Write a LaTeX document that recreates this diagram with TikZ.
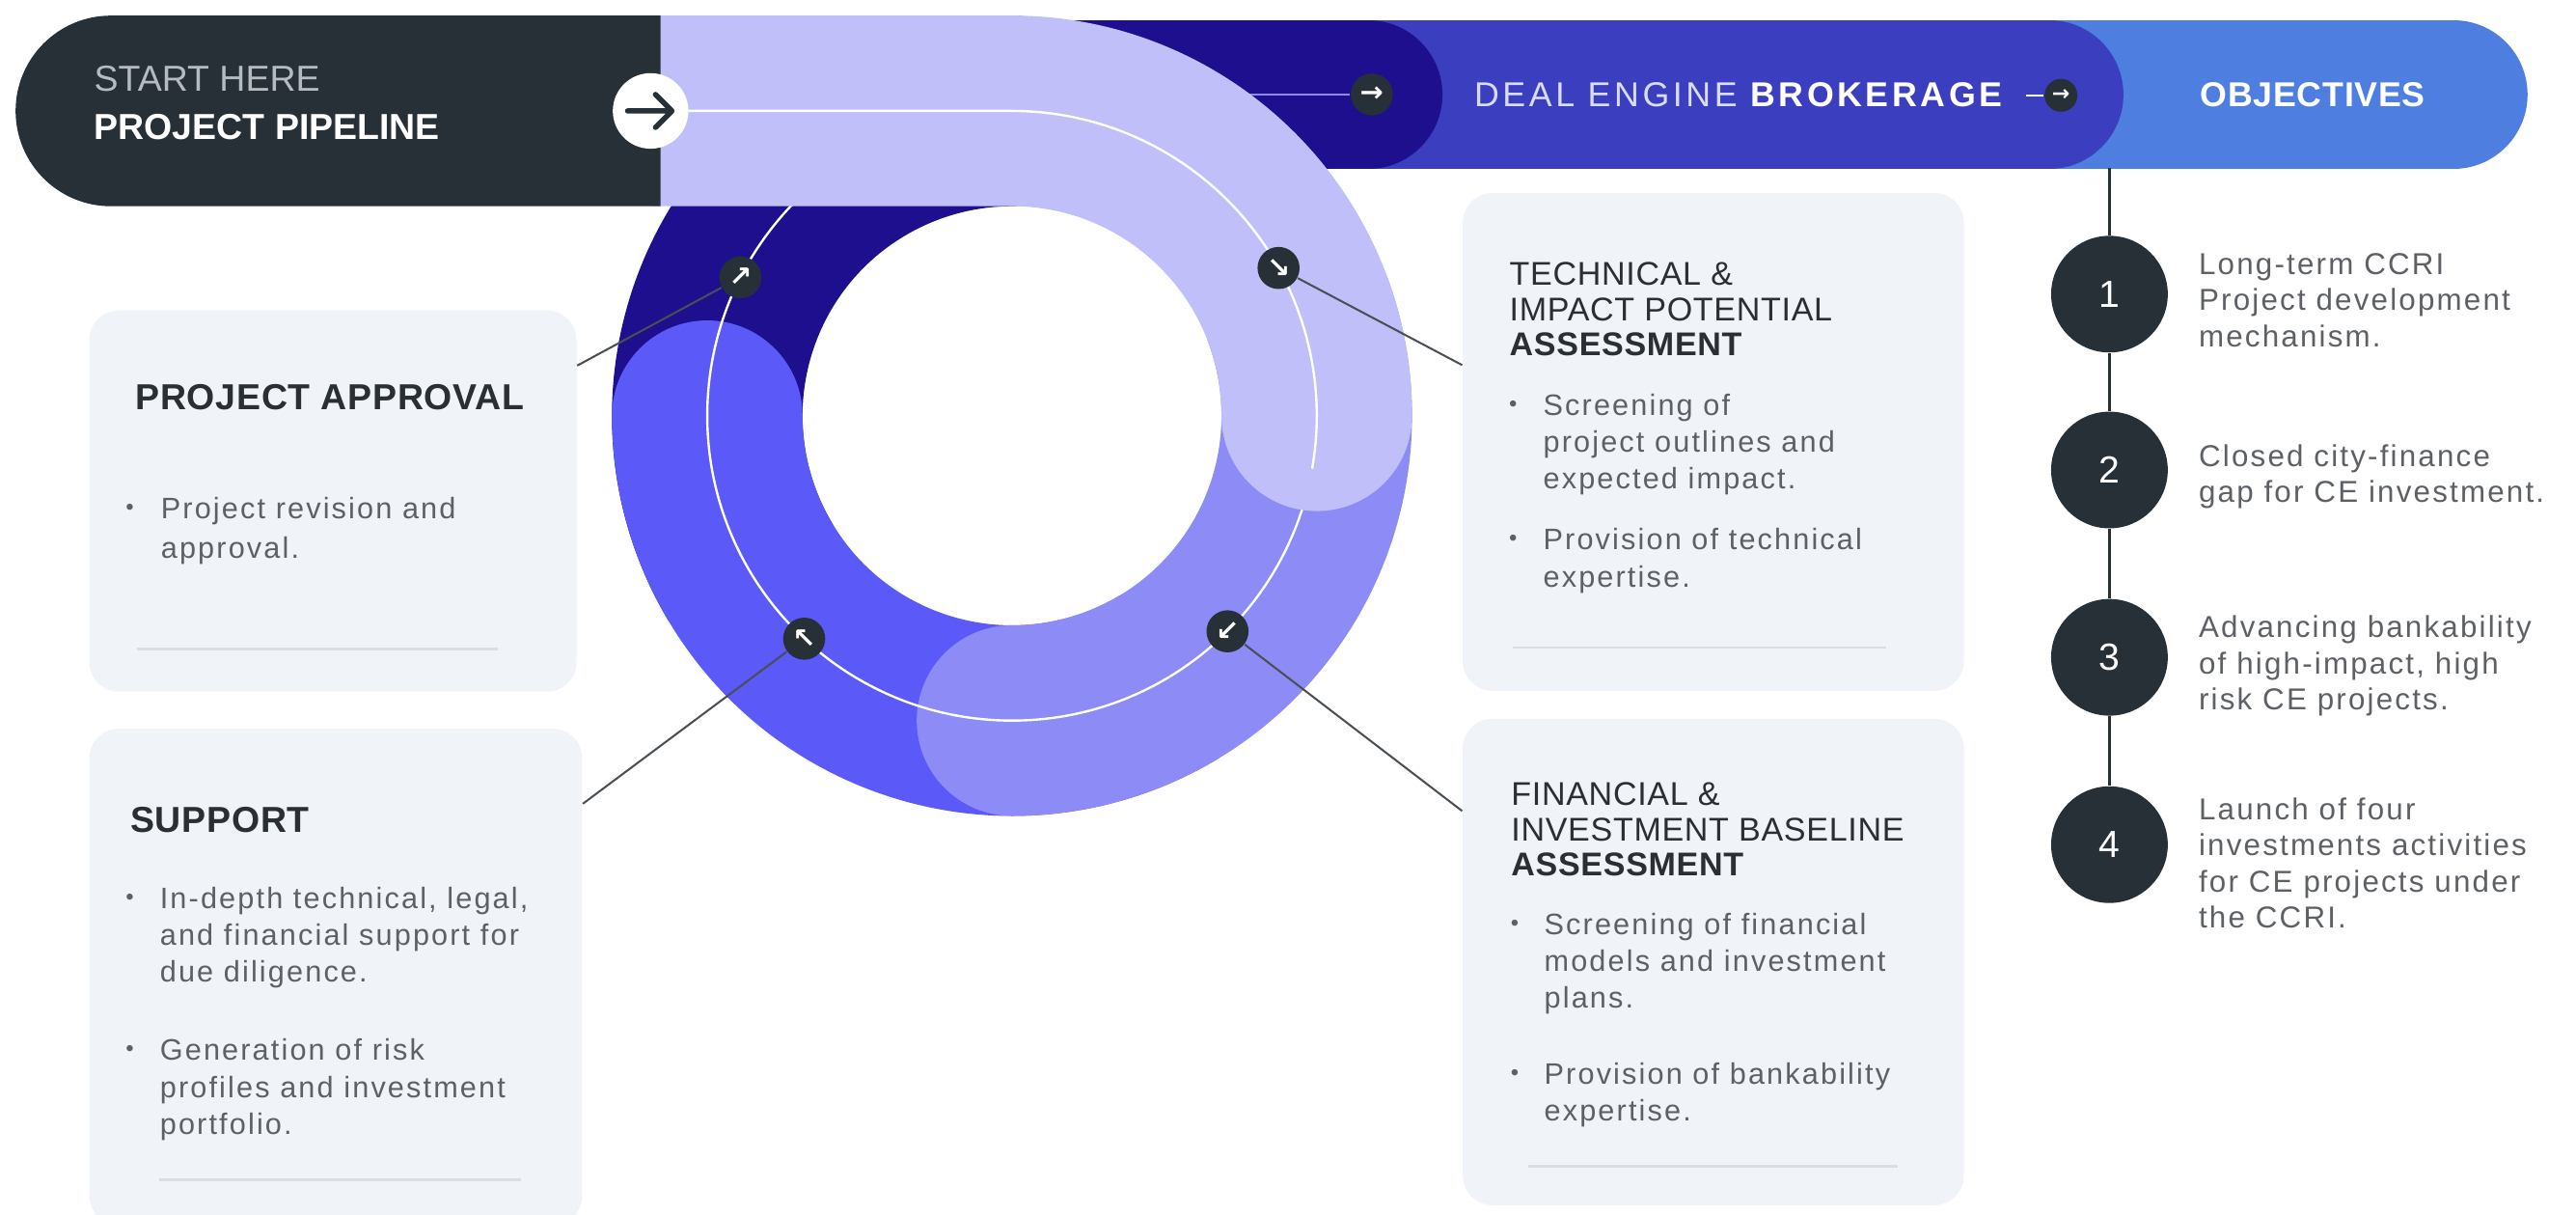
\documentclass[tikz,border=0pt]{standalone}
\usepackage{fontspec}
\setmainfont{Liberation Sans}
\newfontfamily\bodyfont[LetterSpace=7]{Liberation Sans}
\newfontfamily\headfont[LetterSpace=2]{Liberation Sans}
\newfontfamily\barfont[LetterSpace=10]{Liberation Sans}
\newfontfamily\symfont{DejaVu Sans}
\usetikzlibrary{calc}
\definecolor{slate}{HTML}{263036}
\definecolor{lav}{HTML}{C0BFFA}
\definecolor{peri}{HTML}{8D8BF6}
\definecolor{ringblue}{HTML}{5B59F8}
\definecolor{navy}{HTML}{1E0F8F}
\definecolor{deal}{HTML}{3B3FBF}
\definecolor{objblue}{HTML}{4D7EE0}
\definecolor{cardgray}{HTML}{F0F3F7}
\definecolor{rulegray}{HTML}{DADDE3}
\definecolor{bodygray}{HTML}{5D6166}
\definecolor{headdark}{HTML}{2A2F33}
\definecolor{startgray}{HTML}{B5BBC0}
\definecolor{dealtext}{HTML}{DADCF6}
\definecolor{navyline}{HTML}{8C8AE6}
\definecolor{linkgray}{HTML}{4A4F55}
\begin{document}
\begin{tikzpicture}[x=0.5pt,y=0.5pt,
        card/.style={fill=cardgray,rounded corners=9pt,inner sep=0pt,anchor=north west},
        band/.style={line width=58pt,line cap=round},
        pill/.style={line width=45pt,line cap=round},
        ringline/.style={white,line width=0.7pt},
        link/.style={linkgray,line width=0.6pt},
        divider/.style={rulegray,line width=0.8pt},
        marker/.style={circle,fill=slate,text=white,inner sep=0pt,minimum size=12.8pt,font=\symfont\bfseries\fontsize{8.5}{8.5}\selectfont},
        numdot/.style={circle,fill=slate,text=white,inner sep=0pt,minimum size=35.5pt,font=\fontsize{11.5}{11.5}\selectfont},
        gobutton/.style={circle,fill=white,minimum size=23pt,inner sep=0pt,
            path picture={\draw[slate,line width=1.6pt,line cap=round,line join=round]
                ([xshift=-7pt]path picture bounding box.center) -- ([xshift=6.5pt]path picture bounding box.center)
                ([xshift=1.5pt,yshift=5pt]path picture bounding box.center) -- ([xshift=6.5pt]path picture bounding box.center)
                -- ([xshift=1.5pt,yshift=-5pt]path picture bounding box.center);}},
        cardhead/.style={anchor=west,inner sep=0pt,text=headdark,font=\headfont\bfseries\fontsize{11}{13}\selectfont},
        subhead/.style={anchor=north west,inner sep=0pt,align=left,text=headdark,font=\headfont\fontsize{10}{10.75}\selectfont},
        body/.style={anchor=north west,inner sep=0pt,align=left,text=bodygray,font=\bodyfont\fontsize{9}{11.25}\selectfont},
        objtext/.style={body,font=\bodyfont\fontsize{9.2}{11}\selectfont},
        bulletdot/.style={inner sep=0pt,text=bodygray,font=\fontsize{7}{7}\selectfont}]
        \useasboundingbox (0,0) rectangle (1568,-739);
        \clip (0,0) rectangle (1568,-739);
        \coordinate (C) at (616,-253);

        \node[card,minimum width=148.25pt,minimum height=116pt] (pa) at (54,-188.5) {};
        \node[card,minimum width=150pt,minimum height=151pt] (sup) at (54,-443) {};
        \node[card,minimum width=152.5pt,minimum height=151.5pt] (tech) at (890,-117) {};
        \node[card,minimum width=152.5pt,minimum height=148pt] (fin) at (890,-437) {};

        \draw[pill,objblue] (1250,-57.5) -- (1493.5,-57.5);
        \draw[pill,deal] (800,-57.5) -- (1247.5,-57.5);
        \draw[pill,navy] (616,-57.5) -- (833,-57.5);
        \draw[band,navy] (C) ++(-150:185.5) arc[start angle=-150,end angle=-270,radius=185.5];
        \draw[band,ringblue] (C) ++(-60:185.5) arc[start angle=-60,end angle=-180,radius=185.5];
        \draw[band,peri] (C) ++(20:185.5) arc[start angle=20,end angle=-90,radius=185.5];
        \draw[ringline] (C) circle[radius=185.5];

        \node[marker] (mTop) at (835,-57.5) {→};
        \coordinate (navyIn) at (700,-57.5);
        \draw[navyline,line width=0.7pt] (navyIn) -- (mTop);

        \draw[band,lav] (402,-67.5) -- (616,-67.5) arc[start angle=90,end angle=0,radius=185.5];
        \coordinate (goCentre) at (396,-67.5);
        \draw[ringline] (goCentre) -- (616,-67.5) arc[start angle=90,end angle=-10,radius=185.5];

        \fill[slate] (402,-9.5) -- (67.5,-9.5) arc[start angle=90,end angle=270,radius=58] -- (402,-125.5) -- cycle;
        \node[gobutton] (go) at (goCentre) {};
        \node[anchor=west,inner sep=0pt,text=startgray,font=\fontsize{11}{11}\selectfont] (startTxt) at (57,-48) {START HERE};
        \node[anchor=west,inner sep=0pt,text=white,font=\bfseries\fontsize{11}{11}\selectfont] (pipeTxt) at (57,-77) {PROJECT PIPELINE};

        \node[anchor=west,inner sep=0pt,text=dealtext,font=\barfont\fontsize{10.5}{10.5}\selectfont] (dealTxt) at (897,-57.5) {DEAL ENGINE \textcolor{white}{\bfseries BROKERAGE}};
        \node[marker,minimum size=10pt,font=\symfont\bfseries\fontsize{6.5}{6.5}\selectfont] (mDeal) at (1254.5,-58) {→};
        \coordinate (dealDash) at (1233,-58);
        \draw[white,line width=0.7pt] (dealDash) -- (mDeal);
        \node[anchor=west,inner sep=0pt,text=white,font=\headfont\bfseries\fontsize{10.5}{10.5}\selectfont] (objTxt) at (1339,-57.5) {OBJECTIVES};

        \node[marker] (m1) at ($(C)+(153:185.5)$) {↗};
        \node[marker] (m2) at ($(C)+(29:185.5)$) {↘};
        \node[marker] (m3) at ($(C)+(-45:185.5)$) {↙};
        \node[marker] (m4) at ($(C)+(-133:185.5)$) {↖};
        \draw[link] (m1) -- (pa.29);
        \draw[link] (m2) -- (tech.163);
        \draw[link] (m3) -- (fin.149);
        \draw[link] (m4) -- (sup.35);

        \node[cardhead] (paHead) at (82,-241.5) {PROJECT APPROVAL};
        \node[bulletdot] (paDot) at (79,-310) {•};
        \node[body,font=\bodyfont\fontsize{9}{12}\selectfont] (paText) at (97.6,-302) {Project revision and\\approval.};
        \draw[divider] (83.6,-395) -- (303,-395);

        \node[cardhead] (supHead) at (79,-499) {SUPPORT};
        \node[bulletdot] (supDotA) at (79,-547) {•};
        \node[body] (supTextA) at (97,-539.2) {In-depth technical, legal,\\and financial support for\\due diligence.};
        \node[bulletdot] (supDotB) at (79,-639.5) {•};
        \node[body] (supTextB) at (97,-631.8) {Generation of risk\\profiles and investment\\portfolio.};
        \draw[divider] (97,-718) -- (317,-718);

        \node[subhead] (techHead) at (918.5,-159.3) {TECHNICAL \&\\IMPACT POTENTIAL\\\textbf{ASSESSMENT}};
        \node[bulletdot] (techDotA) at (921,-247) {•};
        \node[body] (techTextA) at (939,-239.2) {Screening of\\project outlines and\\expected impact.};
        \node[bulletdot] (techDotB) at (921,-329) {•};
        \node[body] (techTextB) at (939,-321.2) {Provision of technical\\expertise.};
        \draw[divider] (921,-394) -- (1148,-394);

        \node[subhead] (finHead) at (919.5,-475.8) {FINANCIAL \&\\INVESTMENT BASELINE\\\textbf{ASSESSMENT}};
        \node[bulletdot] (finDotA) at (922,-563) {•};
        \node[body] (finTextA) at (939.6,-555.2) {Screening of financial\\models and investment\\plans.};
        \node[bulletdot] (finDotB) at (922,-654) {•};
        \node[body] (finTextB) at (939.6,-646.2) {Provision of bankability\\expertise.};
        \draw[divider] (930,-709.5) -- (1155,-709.5);

        \coordinate (objTop) at (1284,-102);
        \node[numdot] (o1) at (1284,-179) {1};
        \node[numdot] (o2) at (1284,-286) {2};
        \node[numdot] (o3) at (1284,-400) {3};
        \node[numdot] (o4) at (1284,-514) {4};
        \draw[slate,line width=0.8pt] (objTop) -- (o1) -- (o2) -- (o3) -- (o4);
        \node[objtext] (objA) at (1338,-153.8) {Long-term CCRI\\Project development\\mechanism.};
        \node[objtext] (objB) at (1338,-270.2) {Closed city-finance\\gap for CE investment.};
        \node[objtext] (objC) at (1338,-374.2) {Advancing bankability\\of high-impact, high\\risk CE projects.};
        \node[objtext] (objD) at (1338,-485) {Launch of four\\investments activities\\for CE projects under\\the CCRI.};
\end{tikzpicture}
\end{document}
